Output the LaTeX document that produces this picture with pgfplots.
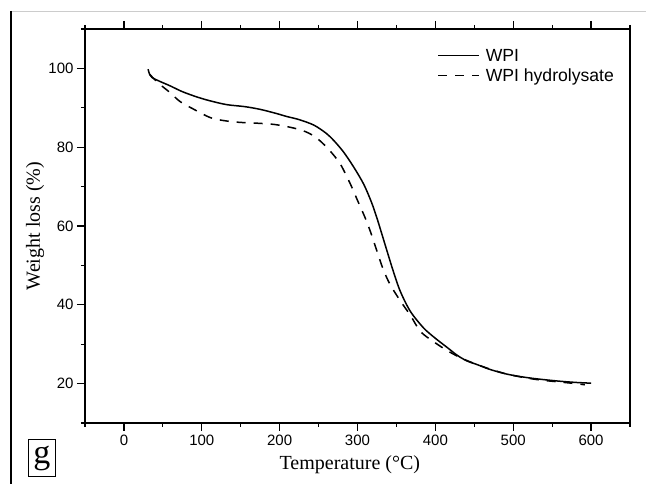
\documentclass[border=0pt]{standalone}
\usepackage{fontspec}
\setmainfont{Liberation Serif}
\newfontfamily\arial{Liberation Sans}
\usepackage{pgfplots}
\pgfplotsset{compat=1.18}
\begin{document}
\begin{tikzpicture}
\begin{axis}[
 scale only axis, width=545pt, height=394pt,
 xmin=-50, xmax=650, ymin=10, ymax=110,
 xtick={0,100,...,600}, ytick={20,40,...,100},
 minor xtick={-50,50,...,650}, minor ytick={10,30,...,110},
 xtick pos=both, ytick pos=left,
 tick align=outside, major tick length=8pt, minor tick length=4pt,
 axis line style={line width=1.2pt},
 tick style={black, line width=1.2pt},
 ticklabel style={font=\arial\fontsize{15}{18}\selectfont},
 /pgf/number format/assume math mode=true,
 xlabel={Temperature (°C)}, ylabel={Weight loss (\%)},
 label style={font=\fontsize{20}{24}\selectfont},
 x label style={at={(axis description cs:0.486,0)}, anchor=center, yshift=-42pt},
 y label style={at={(axis description cs:-0.0917,0.5)}, anchor=center},
 legend style={draw=none, fill=none, at={(rel axis cs:0.646,0.955)}, anchor=north west,
   font=\arial\fontsize{17.6}{20}\selectfont, row sep=2pt, inner sep=0pt},
 legend cell align=left,
 legend image code/.code={\draw[#1] (0pt,0pt) -- (41pt,0pt); \path (45pt,0pt);},
]
\coordinate (O) at (rel axis cs:0,0);
\addplot[black, line width=1.5pt, smooth] coordinates {
(31,99.8)(33,98.5)(36,97.7)(45,96.8)(59,95.6)(75,94.1)(93,92.8)(110,91.8)(132,90.8)
(155,90.3)(175,89.6)(195,88.6)(209,87.8)(225,87.0)(244,85.6)(260,83.5)(270,81.6)
(282,78.8)(295,75.0)(308,70.6)(318,66.0)(325,62.0)(332,57.5)(338,53.6)(346,48.5)
(355,43.4)(368,38.3)(385,34.1)(400,31.5)(415,29.2)(428,27.2)(440,25.8)(454,24.8)
(470,23.6)(492,22.4)(515,21.6)(535,21.1)(560,20.6)(580,20.3)(600,20.1)};
\addlegendentry{WPI}
\addplot[black, line width=1.5pt, dash pattern=on 9pt off 8pt, smooth] coordinates {
(33,98.5)(44,96.3)(59,93.9)(72,91.6)(89,89.7)(111,87.5)(130,86.7)(149,86.3)(170,86.1)
(192,85.8)(210,85.2)(227,84.4)(240,83.3)(252,81.6)(265,79.0)(278,75.7)(291,70.6)
(300,66.5)(310,62.0)(318,57.8)(325,53.6)(333,49.0)(342,45.1)(355,41.0)(368,37.3)
(381,33.2)(398,30.6)(415,28.4)(432,26.6)(450,25.1)(470,23.7)(492,22.4)(515,21.5)
(535,20.9)(560,20.4)(580,20.0)(592,19.7)};
\addlegendentry{WPI hydrolysate}
\end{axis}
\path[use as bounding box] ([shift={(-85pt,-61pt)}]O) rectangle ([shift={(561pt,423pt)}]O);
\draw[black!20, line width=0.8pt] ([shift={(-74pt,412pt)}]O) -- ([shift={(561pt,412pt)}]O);
\draw[black, line width=2pt] ([shift={(-74pt,412pt)}]O) -- ([shift={(-74pt,-61pt)}]O);
\node[draw, line width=0.8pt, minimum width=27pt, minimum height=37pt, inner sep=0pt,
  font=\fontsize{34}{34}\selectfont] at ([shift={(-43pt,-35pt)}]O) {g};
\end{tikzpicture}
\end{document}
